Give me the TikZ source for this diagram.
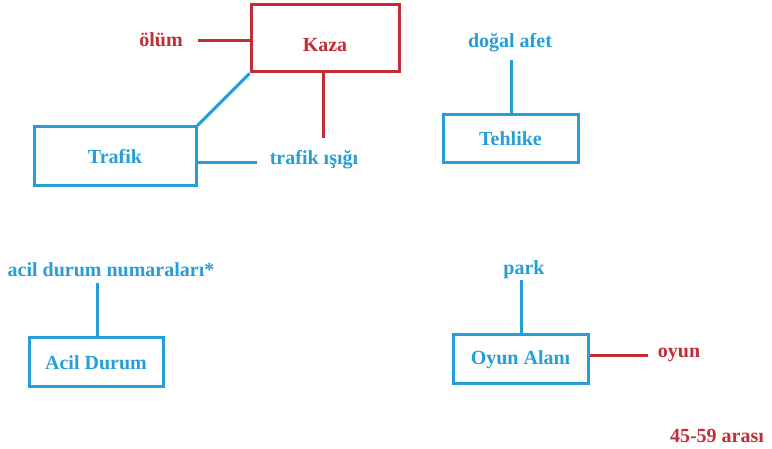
\documentclass[tikz,border=0pt]{standalone}
\usepackage{fontspec}
\setmainfont{Liberation Serif}
\usepackage{tikz}
\usetikzlibrary{calc, positioning}
\definecolor{mavi}{RGB}{38,158,214}
\definecolor{kirmizi}{RGB}{196,44,56}

\begin{document}
\begin{tikzpicture}[x=1pt, y=-1pt, line width=3pt,
	kutu/.style={shape=rectangle, draw=#1, fill=white, inner sep=0pt, text=mavi},
	etiket/.style={text=#1, inner sep=0pt},
	every node/.style={font=\bfseries\fontsize{20}{24}\selectfont}]
\useasboundingbox[fill=white] (0,0) rectangle (772,449);
% kutular
\node[kutu=kirmizi, text=kirmizi, minimum width=148pt, minimum height=67pt, text height=27pt, text depth=0pt] (kaza) at (325,38.5) {Kaza};
\node[kutu=mavi, minimum width=162pt, minimum height=59pt] (trafik) at (115,156.5) {Trafik};
\node[kutu=mavi, minimum width=135pt, minimum height=48pt] (tehlike) at (510.5,139) {Tehlike};
\node[kutu=mavi, minimum width=134pt, minimum height=49pt] (acil) at (96,362.5) {Acil Durum};
\node[kutu=mavi, minimum width=135pt, minimum height=49pt] (oyunalani) at (520.5,359.5) {Oyun Alanı};
% etiketler
\node[etiket=kirmizi] (olum) at (161,40) {ölüm};
\node[etiket=mavi] (isik) at (314,160) {trafik ışığı};
\node[etiket=mavi] (afet) at (510,43) {doğal afet};
\node[etiket=mavi] (numara) at (111,270) {acil durum numaraları*};
\node[etiket=mavi] (park) at (524,270) {park};
\node[etiket=kirmizi] (oyun) at (679,355) {oyun};
\node[etiket=kirmizi] (yas) at (717,436) {45-59 arası};
% cizgiler
\coordinate (olumA) at (198,41);
\coordinate (kazaA) at (323,138);
\coordinate (isikA) at (257,163);
\coordinate (afetA) at (511,60);
\coordinate (numaraA) at (97,283);
\coordinate (parkA) at (521,280);
\coordinate (oyunA) at (648,356);
\draw[kirmizi] (kaza.west |- olumA) -- (olumA);
\draw[kirmizi] (kaza.south -| kazaA) -- (kazaA);
\draw[mavi] (trafik.north east) -- (kaza.south west);
\draw[mavi] (trafik.east |- isikA) -- (isikA);
\draw[mavi] (tehlike.north -| afetA) -- (afetA);
\draw[mavi] (acil.north -| numaraA) -- (numaraA);
\draw[mavi] (oyunalani.north -| parkA) -- (parkA);
\draw[kirmizi] (oyunalani.east |- oyunA) -- (oyunA);
\end{tikzpicture}
\end{document}
